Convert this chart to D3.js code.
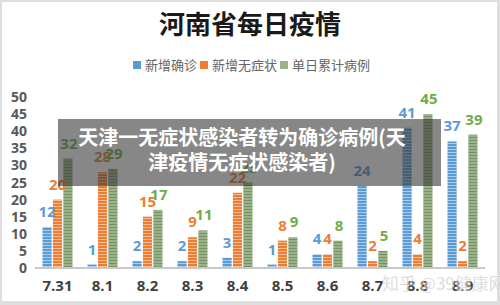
<!DOCTYPE html>
<html>
<head>
<meta charset="utf-8">
<title></title>
<style type="text/css">
	body{ margin:0; background:#fff; }
	svg{ display:block; }
</style>
</head>
<body>
<div id="chart"></div>
<script src="https://d3js.org/d3.v7.min.js"></script>
<script>
// 数据
let categories = ["7.31","8.1","8.2","8.3","8.4","8.5","8.6","8.7","8.8","8.9"];
let seriesNames = ["新增确诊","新增无症状","单日累计病例"];
let confirmed = [12, 1, 2, 2, 3, 1, 4, 24, 41, 37];
let asymptomatic = [20, 28, 15, 9, 22, 8, 4, 2, 4, 2];
let daily = [32, 29, 17, 11, 25, 9, 8, 5, 45, 39];
let yTicks = [0, 5, 10, 15, 20, 25, 30, 35, 40, 45, 50];

let w = 500, h = 305;
let colors = ["#5b9bd5", "#ed7d31", "#9ab288"];
let labelColors = ["#5b9bd5", "#ed7d31", "#70ad47"];
let numFont = "'Open Sans', 'Noto Sans', sans-serif";
let cjkFont = "'Noto Sans CJK SC', sans-serif";

let svg = d3.select("#chart").append("svg")
	.attr("width", w)
	.attr("height", h);

// 外框
svg.append("rect").attr("width", w).attr("height", h).attr("fill", "#dedede");
svg.append("rect").attr("x", 2).attr("y", 2).attr("width", w - 5).attr("height", h - 6).attr("fill", "#fff");

// 条纹填充
let defs = svg.append("defs");
colors.forEach(function(c, i){
	let p = defs.append("pattern")
		.attr("id", "stripe" + i)
		.attr("patternUnits", "userSpaceOnUse")
		.attr("width", 4).attr("height", 3);
	p.append("rect").attr("width", 4).attr("height", 3).attr("fill", c);
	p.append("rect").attr("y", 2).attr("width", 4).attr("height", 1)
		.attr("fill", i == 2 ? "#5f7d50" : "#fff")
		.attr("opacity", i == 2 ? 0.6 : 0.5);
});

// 标题
svg.append("text")
	.text("河南省每日疫情")
	.attr("x", 250).attr("y", 34)
	.attr("text-anchor", "middle")
	.attr("font-family", cjkFont)
	.attr("font-size", "26px")
	.attr("font-weight", "bold")
	.attr("fill", "#1a1a1a");

// 图例
let legendX = [133, 200, 280];
seriesNames.forEach(function(name, i){
	svg.append("rect")
		.attr("x", legendX[i]).attr("y", 61)
		.attr("width", 8).attr("height", 8)
		.attr("fill", colors[i]);
	svg.append("text")
		.text(name)
		.attr("x", legendX[i] + 12).attr("y", 70)
		.attr("font-family", cjkFont)
		.attr("font-size", "13px")
		.attr("fill", "#666");
});

let x = d3.scaleBand().domain(categories).range([35, 485]);
let x1 = d3.scaleBand().domain(d3.range(3)).range([7.5, 37.5]).paddingInner(0.12);
let y = d3.scaleLinear().domain([0, 50]).range([268, 97]);

// y 轴刻度
svg.selectAll("text.ytick")
	.data(yTicks)
	.enter()
	.append("text")
	.attr("class", "ytick")
	.text(function(d){ return d; })
	.attr("x", 27)
	.attr("y", function(d){ return y(d) + 5; })
	.attr("text-anchor", "end")
	.attr("font-family", numFont)
	.attr("font-size", "14px")
	.attr("font-weight", "bold")
	.attr("fill", "#595959");

let allSeries = [confirmed, asymptomatic, daily];
let rows = [];
categories.forEach(function(c, ci){
	allSeries.forEach(function(s, si){
		rows.push({cat: c, s: si, v: s[ci]});
	});
});

svg.selectAll("rect.bar")
	.data(rows)
	.enter()
	.append("rect")
	.attr("class", "bar")
	.attr("x", function(d){ return x(d.cat) + x1(d.s); })
	.attr("y", function(d){ return y(d.v); })
	.attr("width", x1.bandwidth())
	.attr("height", function(d){ return y(0) - y(d.v); })
	.attr("fill", function(d){ return "url(#stripe" + d.s + ")"; });

// 基线
svg.append("line")
	.attr("x1", 35).attr("x2", 485)
	.attr("y1", y(0)).attr("y2", y(0))
	.attr("stroke", "#c8c8c8")
	.attr("stroke-width", 2);

// 数据标签
svg.selectAll("text.val")
	.data(rows)
	.enter()
	.append("text")
	.attr("class", "val")
	.text(function(d){ return d.v; })
	.attr("x", function(d){ return x(d.cat) + x1(d.s) + x1.bandwidth() / 2 + (d.s == 2 ? 1 : 0); })
	.attr("y", function(d){ return y(d.v) - 10; })
	.attr("text-anchor", "middle")
	.attr("font-family", numFont)
	.attr("font-size", "15px")
	.attr("font-weight", "bold")
	.attr("fill", function(d){ return labelColors[d.s]; });

// x 轴标签
svg.selectAll("text.xlab")
	.data(categories)
	.enter()
	.append("text")
	.attr("class", "xlab")
	.text(function(d){ return d; })
	.attr("x", function(d){ return x(d) + x.bandwidth() / 2; })
	.attr("y", 291)
	.attr("text-anchor", "middle")
	.attr("font-family", numFont)
	.attr("font-size", "15px")
	.attr("font-weight", "bold")
	.attr("fill", "#404040");

// 遮罩标题
svg.append("rect")
	.attr("x", 58).attr("y", 119)
	.attr("width", 383).attr("height", 67)
	.attr("fill", "rgba(55,55,55,0.6)");
let banner = ["天津一无症状感染者转为确诊病例(天", "津疫情无症状感染者)"];
banner.forEach(function(t, i){
	svg.append("text")
		.text(t)
		.attr("x", 242).attr("y", 145 + i * 25)
		.attr("text-anchor", "middle")
		.attr("font-family", cjkFont)
		.attr("font-size", "20px")
		.attr("font-weight", "bold")
		.attr("fill", "#fff");
});

// 水印
svg.append("text")
	.text("知乎 @39健康网")
	.attr("x", 382).attr("y", 290)
	.attr("font-family", cjkFont)
	.attr("font-size", "17px")
	.attr("fill", "rgba(150,150,150,0.5)")
	.attr("stroke", "rgba(255,255,255,0.5)")
	.attr("stroke-width", 0.8);
</script>
</body>
</html>
